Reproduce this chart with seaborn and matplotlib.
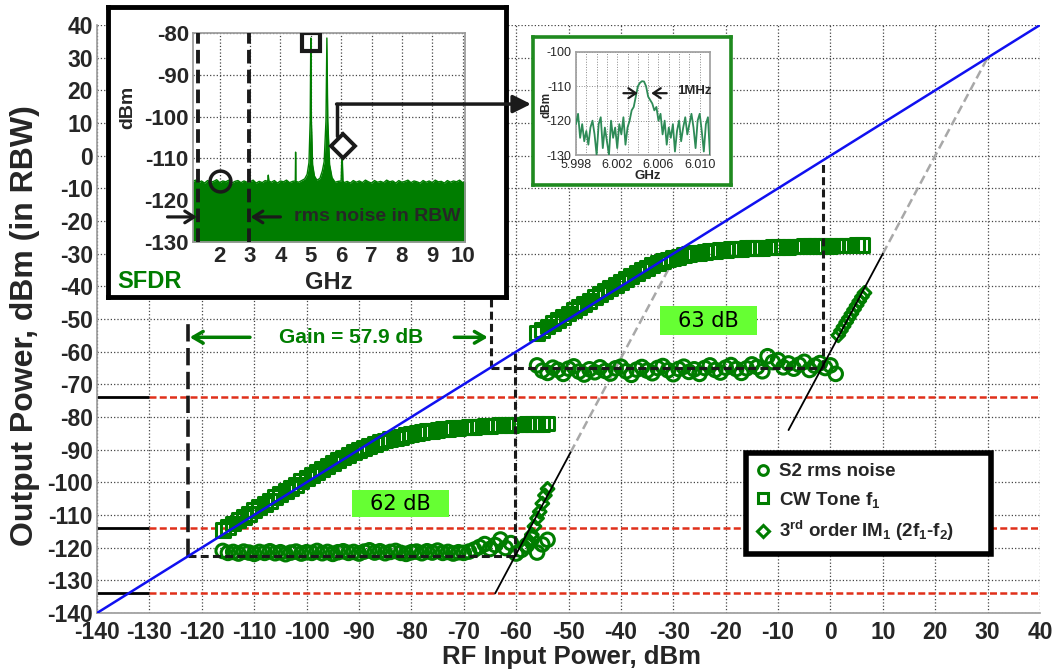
import numpy as np
import matplotlib
matplotlib.use("Agg")
import matplotlib.pyplot as plt
import seaborn as sns
from matplotlib.lines import Line2D
from matplotlib.patches import Rectangle
from matplotlib.ticker import MultipleLocator

# ---------------- data ----------------
pin_low = list(range(-116, -53))            # RF input, dBm (first stage)
cw_low = [-114.6, -113.6, -112.6, -111.6, -110.6, -109.6, -108.6, -107.6, -106.6, -105.6,
          -104.6, -103.6, -102.6, -101.7, -100.7, -99.7, -98.7, -97.8, -96.8, -95.9,
          -95.0, -94.1, -93.2, -92.4, -91.6, -90.8, -90.1, -89.4, -88.8, -88.2,
          -87.7, -87.2, -86.8, -86.4, -86.0, -85.6, -85.3, -85.0, -84.7, -84.4,
          -84.2, -84.0, -83.8, -83.6, -83.5, -83.3, -83.2, -83.1, -83.0, -82.9,
          -82.8, -82.7, -82.6, -82.5, -82.5, -82.4, -82.3, -82.3, -82.2, -82.2,
          -82.1, -82.1, -82.0]
noise_low = [-121.0, -121.6, -121.3, -121.8, -121.2, -121.5, -121.9, -121.3, -121.6, -121.1,
             -121.7, -121.4, -122.0, -121.5, -121.2, -121.8, -121.4, -121.6, -121.0, -121.7,
             -121.3, -121.9, -121.4, -121.1, -121.6, -121.3, -121.8, -121.2, -120.8, -121.5,
             -121.1, -121.7, -121.3, -121.0, -121.6, -121.9, -121.4, -121.2, -121.7, -121.1,
             -121.5, -120.9, -121.6, -121.3, -121.8, -121.4, -121.6, -121.2, -120.6, -119.8,
             -118.9, -120.4, -119.2, -117.5, -120.1, -118.6, -121.8, -120.7, -119.3, -117.3,
             -121.5, -119.0, -117.6]
im3_low_x = [-58.0, -57.5, -57.0, -56.5, -56.0, -55.5, -55.0, -54.5, -54.0]
im3_low_y = [-120.0, -118.0, -116.0, -113.5, -111.0, -109.0, -106.5, -104.0, -102.0]

pin_high = list(range(-56, 7))              # RF input, dBm (second stage)
cw_high = [-54.3, -53.3, -52.3, -51.3, -50.3, -49.3, -48.3, -47.3, -46.3, -45.3,
           -44.4, -43.4, -42.4, -41.4, -40.5, -39.5, -38.6, -37.7, -36.8, -35.9,
           -35.1, -34.3, -33.6, -32.9, -32.3, -31.8, -31.3, -30.9, -30.5, -30.2,
           -29.9, -29.7, -29.5, -29.3, -29.1, -28.9, -28.8, -28.7, -28.6, -28.5,
           -28.4, -28.3, -28.2, -28.2, -28.1, -28.0, -28.0, -27.9, -27.9, -27.8,
           -27.8, -27.7, -27.7, -27.7, -27.6, -27.6, -27.6, -27.5, -27.5, -27.5,
           -27.5, -27.4, -27.4]
pin_high_noise = list(range(-56, 2))
noise_high = [-64.2, -65.8, -66.5, -64.9, -65.6, -66.8, -65.2, -64.5, -66.1, -67.0,
              -65.4, -66.3, -64.8, -65.9, -66.7, -65.1, -64.6, -66.0, -67.1, -65.5,
              -64.7, -65.8, -66.6, -65.0, -64.4, -65.7, -66.9, -65.3, -64.6, -66.2,
              -65.4, -66.8, -65.0, -64.2, -65.6, -66.4, -64.9, -64.1, -65.3, -66.5,
              -65.1, -63.9, -64.7, -66.0, -61.4, -63.2, -62.6, -64.8, -63.6, -65.2,
              -64.0, -63.1, -65.6, -64.3, -63.5, -65.0, -64.2, -66.8]
im3_high_x = [1.5, 2.0, 2.5, 3.0, 3.5, 4.0, 4.5, 5.0, 5.5, 6.0, 6.5]
im3_high_y = [-55.0, -53.6, -52.3, -51.0, -49.7, -48.4, -47.1, -45.8, -44.5, -43.2, -42.0]

ident_x = [-140, 40]                        # output = input reference
ident_y = [-140, 40]
ref_levels = [-74, -114, -134]              # noise / reference levels
fit1_x, fit1_y = [-64.0, -49.6], [-134.0, -90.8]     # IM3 slope-3 fits
ext1_x, ext1_y = [-49.6, -29.0], [-90.8, -29.0]
fit2_x, fit2_y = [-8.0, 10.0], [-84.0, -30.0]
ext2_x, ext2_y = [10.0, 30.0], [-30.0, 30.0]

# inset spectrum (GHz, dBm)
spec_ghz = [1.10, 1.20, 1.30, 1.40, 1.50, 1.60, 1.70, 1.80, 1.90, 2.00, 2.10, 2.20, 2.30, 2.40, 2.50, 2.60, 2.70, 2.80, 2.90, 3.00,
            3.10, 3.20, 3.30, 3.40, 3.50, 3.58, 3.60, 3.62, 3.70, 3.80, 3.90, 4.00, 4.10, 4.20, 4.30, 4.40, 4.49, 4.50, 4.51, 4.60,
            4.70, 4.80, 4.88, 4.94, 4.98, 5.00, 5.02, 5.06, 5.12, 5.20, 5.30, 5.38, 5.44, 5.50, 5.53, 5.56, 5.62, 5.70, 5.80, 5.90,
            6.00, 6.03, 6.06, 6.10, 6.20, 6.30, 6.40, 6.50, 6.60, 6.70, 6.80, 6.90, 7.00, 7.10, 7.20, 7.30, 7.40, 7.50, 7.60, 7.70,
            7.80, 7.90, 8.00, 8.10, 8.20, 8.30, 8.40, 8.50, 8.60, 8.70, 8.80, 8.90, 9.00, 9.10, 9.20, 9.30, 9.40, 9.50, 9.60, 9.70,
            9.80, 9.90, 10.00, 10.10]
spec_dbm = [-115.6, -115.2, -115.8, -115.4, -115.9, -115.3, -115.7, -115.5, -115.1, -115.8, -115.4, -115.6, -115.2, -115.9, -115.5, -115.3, -115.8, -115.4, -115.7, -115.6,
            -115.2, -115.9, -115.5, -115.8, -115.3, -115.5, -114.0, -115.4, -115.7, -115.3, -115.9, -115.4, -115.6, -115.2, -115.8, -115.5, -115.4, -108.5, -115.5, -115.7,
            -115.3, -114.9, -113.8, -111.0, -101.0, -81.2, -101.0, -111.5, -114.2, -115.2, -114.8, -113.0, -110.8, -101.0, -81.2, -101.0, -111.5, -114.6, -115.7, -115.5,
            -115.4, -108.0, -115.4, -115.8, -115.5, -115.9, -115.3, -115.7, -115.4, -115.8, -115.2, -115.6, -115.9, -115.3, -115.7, -115.5, -115.8, -115.2, -115.6, -115.4,
            -115.9, -115.3, -115.7, -115.5, -115.2, -115.8, -115.4, -115.6, -115.9, -115.3, -115.7, -115.4, -115.8, -115.2, -115.6, -115.5, -115.9, -115.3, -115.7, -115.4,
            -115.6, -115.2, -115.8, -115.5]

# zoomed IM3 spectrum (GHz, dBm)
zoom_ghz = [5.9980, 5.9982, 5.9984, 5.9986, 5.9988, 5.9990, 5.9992, 5.9994, 5.9996, 5.9998,
            6.0000, 6.0002, 6.0004, 6.0006, 6.0008, 6.0010, 6.0012, 6.0014, 6.0016, 6.0018,
            6.0020, 6.0022, 6.0024, 6.0026, 6.0028, 6.0030, 6.0032, 6.0034, 6.0036, 6.0038,
            6.0040, 6.0042, 6.0044, 6.0046, 6.0048, 6.0050, 6.0052, 6.0054, 6.0056, 6.0058,
            6.0060, 6.0062, 6.0064, 6.0066, 6.0068, 6.0070, 6.0072, 6.0074, 6.0076, 6.0078,
            6.0080, 6.0082, 6.0084, 6.0086, 6.0088, 6.0090, 6.0092, 6.0094, 6.0096, 6.0098,
            6.0100, 6.0102, 6.0104, 6.0106, 6.0108, 6.0110]
zoom_dbm = [-121, -118, -125, -121, -126, -123, -127, -122, -120, -124,
            -130, -121, -119, -128, -122, -126, -130, -120, -125, -122,
            -128, -121, -124, -119, -127, -122, -120, -117, -116, -113,
            -110, -109, -108.5, -108.6, -110, -113, -114, -115, -117, -116,
            -120, -118, -124, -120, -127, -122, -125, -121, -129, -123,
            -120, -126, -122, -119, -124, -121, -118, -122, -128, -120,
            -118, -123, -129, -121, -119, -130]

GREEN = "#007d00"
W, H = 1057, 672

# ---------------- style ----------------
sns.set_theme(style="white")
plt.rcParams["font.family"] = ["Liberation Sans", "DejaVu Sans"]
plt.rcParams["font.weight"] = "bold"
plt.rcParams["axes.unicode_minus"] = False
plt.rcParams["mathtext.fontset"] = "custom"
plt.rcParams["mathtext.rm"] = "Liberation Sans:bold"
plt.rcParams["mathtext.it"] = "Liberation Sans:bold"
plt.rcParams["mathtext.bf"] = "Liberation Sans:bold"

fig = plt.figure(figsize=(W / 100, H / 100), dpi=100)
fig.patch.set_facecolor("white")

def fx(px):
    return px / W

def fy(py):
    return 1 - py / H

# ---------------- main axes ----------------
ax = fig.add_axes([fx(97), fy(613), (1040 - 97) / W, (613 - 25) / H])
ax.set_xlim(-140, 40)
ax.set_ylim(-140, 40)
ax.set_xticks(range(-140, 41, 10))
ax.set_yticks(range(-140, 41, 10))
ax.grid(True, linestyle=":", color="#444444", linewidth=0.9)
for s in ["top", "right"]:
    ax.spines[s].set_visible(False)
for s in ["left", "bottom"]:
    ax.spines[s].set_color("#9a9a9a")
    ax.spines[s].set_linewidth(1.2)
ax.tick_params(direction="in", length=5, color="#9a9a9a", labelsize=16.5, pad=3)
ax.tick_params(axis="x", pad=6)
for lab in ax.get_xticklabels() + ax.get_yticklabels():
    lab.set_fontweight("bold")

# reference levels
for lv in ref_levels:
    ax.hlines(lv, -130, 40, colors="#e0301a", linestyles=(0, (2.8, 1.3)), linewidth=1.8, zorder=2)
    ax.hlines(lv, -140, -130, colors="black", linewidth=2.0, zorder=2)

# black dashed construction lines
dash_m = (0, (2.6, 1.4))
ax.plot([-122.6, -122.6], [-122.5, -51.5], color="k", lw=2.6, ls=(0, (4.8, 1.8)), zorder=4)
ax.plot([-122.6, -60.3], [-122.5, -122.5], color="k", lw=2.2, ls=dash_m, zorder=4)
ax.plot([-60.3, -60.3], [-122.5, -60.3], color="k", lw=2.2, ls=dash_m, zorder=4)
ax.plot([-64.7, -64.7], [-65.0, -40.0], color="k", lw=2.2, ls=dash_m, zorder=4)
ax.plot([-64.7, -1.5], [-65.0, -65.0], color="k", lw=2.2, ls=dash_m, zorder=4)
ax.plot([-1.5, -1.5], [-65.0, -1.5], color="k", lw=2.2, ls=dash_m, zorder=4)

# data markers
mk = dict(facecolors="none", edgecolor=GREEN, linewidth=2.2, legend=False, ax=ax)
sns.scatterplot(x=pin_low, y=noise_low, marker="o", s=95, zorder=3, **mk)
sns.scatterplot(x=pin_high_noise, y=noise_high, marker="o", s=95, zorder=3, **mk)
sns.scatterplot(x=pin_low, y=cw_low, marker="s", s=100, zorder=3, **mk)
sns.scatterplot(x=pin_high, y=cw_high, marker="s", s=100, zorder=3, **mk)
sns.scatterplot(x=im3_low_x, y=im3_low_y, marker="D", s=42, zorder=3, **mk)
sns.scatterplot(x=im3_high_x, y=im3_high_y, marker="D", s=42, zorder=3, **mk)

# lines
sns.lineplot(x=ident_x, y=ident_y, color="#1010f0", lw=1.8, ax=ax, zorder=5)
sns.lineplot(x=ext1_x, y=ext1_y, color="#a8a8a8", lw=1.8, ls=(0, (3.5, 1.8)), ax=ax, zorder=2)
sns.lineplot(x=ext2_x, y=ext2_y, color="#a8a8a8", lw=1.8, ls=(0, (3.5, 1.8)), ax=ax, zorder=2)
sns.lineplot(x=fit1_x, y=fit1_y, color="black", lw=1.3, ax=ax, zorder=5)
sns.lineplot(x=fit2_x, y=fit2_y, color="black", lw=1.3, ax=ax, zorder=5)

# SFDR value boxes
for (x0, x1, y0, y1, txt) in [(-91.4, -72.8, -110.7, -102.3, "62 dB"),
                              (-32.6, -14.0, -55.0, -46.0, "63 dB")]:
    ax.add_patch(Rectangle((x0, y0), x1 - x0, y1 - y0, facecolor="#66ff33",
                           edgecolor="none", zorder=3))
    ax.text((x0 + x1) / 2, (y0 + y1) / 2, txt, ha="center", va="center",
            fontsize=15, fontweight="normal", family="DejaVu Sans", color="black", zorder=6)

# gain annotation
ax.text(-91.4, -55.6, "Gain = 57.9 dB", color=GREEN, fontsize=15, fontweight="bold",
        ha="center", va="center", zorder=6)
arr = dict(arrowstyle="->,head_length=0.6,head_width=0.35", color=GREEN, lw=2.5,
           shrinkA=0, shrinkB=0)
ax.annotate("", xy=(-122.3, -55.6), xytext=(-110.8, -55.6), arrowprops=arr, zorder=6)
ax.annotate("", xy=(-65.4, -55.6), xytext=(-71.8, -55.6), arrowprops=arr, zorder=6)

# legend
handles = [Line2D([], [], ls="", marker="o", ms=7, mfc="none", mec=GREEN, mew=2.2),
           Line2D([], [], ls="", marker="s", ms=7, mfc="none", mec=GREEN, mew=2.2),
           Line2D([], [], ls="", marker="D", ms=6, mfc="none", mec=GREEN, mew=2.2)]
labels = ["S2 rms noise", "CW Tone f$_1$", "3$^{rd}$ order IM$_1$ (2f$_1$-f$_2$)"]
leg = ax.legend(handles, labels, loc="upper left",
                bbox_to_anchor=(fx(746), fy(556), 245 / W, 103 / H),
                bbox_transform=fig.transFigure, mode="expand", frameon=True,
                fancybox=False, edgecolor="black", framealpha=1,
                prop={"size": 13.5, "weight": "bold"}, handlelength=0.7,
                handletextpad=0.5, borderpad=0.55, labelspacing=0.5, borderaxespad=0)
leg.get_frame().set_linewidth(4)
leg.set_zorder(10)

fig.text(fx(571), fy(657), "RF Input Power, dBm", ha="center", va="center",
         fontsize=18.5, fontweight="bold")
fig.text(fx(25), fy(326), "Output Power, dBm (in RBW)", ha="center", va="center",
         rotation=90, fontsize=23, fontweight="bold")

# ---------------- SFDR spectrum inset ----------------
box1 = fig.add_axes([fx(108), fy(297), (506 - 108) / W, (297 - 7) / H])
box1.set_xticks([])
box1.set_yticks([])
box1.set_facecolor("white")
for s in box1.spines.values():
    s.set_linewidth(3.5)
    s.set_color("black")

axs = fig.add_axes([fx(193), fy(242), (465 - 193) / W, (242 - 33) / H])
axs.set_facecolor("white")
axs.fill_between(spec_ghz, spec_dbm, -130, color=GREEN, lw=0, zorder=2)
sns.lineplot(x=spec_ghz, y=spec_dbm, color=GREEN, lw=1.0, ax=axs, zorder=2)
axs.set_xlim(1.12, 10.08)
axs.set_ylim(-130, -80)
axs.set_xticks(range(2, 11))
axs.set_yticks(range(-130, -79, 10))
axs.grid(True, linestyle=":", color="#444444", linewidth=0.9, zorder=1)
for s in axs.spines.values():
    s.set_color("#9a9a9a")
axs.tick_params(direction="in", length=4, color="#9a9a9a", labelsize=16, pad=3)
for lab in axs.get_xticklabels() + axs.get_yticklabels():
    lab.set_fontweight("bold")
axs.set_xlabel("")
axs.set_ylabel("")
axs.axvline(1.3, color="k", lw=2.8, ls=(0, (3.5, 1.6)), zorder=4)
axs.axvline(2.95, color="k", lw=2.8, ls=(0, (3.5, 1.6)), zorder=4)
axs.plot([2.0], [-115.5], marker="o", ms=15, mfc="none", mec="k", mew=2.5, zorder=5)
axs.plot([5.0], [-82.2], marker="s", ms=13, mfc="none", mec="k", mew=3, zorder=5)
axs.plot([6.07], [-107.1], marker="D", ms=12, mfc="white", mec="k", mew=2.8, zorder=5)
axs.plot([5.85, 5.85], [-104.6, -97.0], color="k", lw=2.5, zorder=5, clip_on=False)
axs.annotate("", xy=(fx(531), -97.0), xycoords=("figure fraction", "data"),
             xytext=(5.85, -97.0), textcoords="data",
             arrowprops=dict(arrowstyle="-|>,head_length=0.9,head_width=0.45",
                             color="k", lw=2.5, shrinkA=0, shrinkB=0),
             annotation_clip=False)
arrk = dict(arrowstyle="->,head_length=0.55,head_width=0.35", color="k", lw=2.3,
            shrinkA=0, shrinkB=0)
axs.annotate("", xy=(1.25, -124.0), xytext=(0.28, -124.0), arrowprops=arrk,
             annotation_clip=False)
axs.annotate("", xy=(3.02, -124.0), xytext=(4.0, -124.0), arrowprops=arrk,
             annotation_clip=False)
axs.text(4.45, -124.0, "rms noise in RBW", fontsize=14, fontweight="bold",
         ha="left", va="center", zorder=6)
fig.text(fx(128), fy(107), "dBm", rotation=90, ha="center", va="center",
         fontsize=14, fontweight="bold")
fig.text(fx(329), fy(282), "GHz", ha="center", va="center", fontsize=17,
         fontweight="bold")
fig.text(fx(117), fy(281), "SFDR", ha="left", va="center", fontsize=17,
         fontweight="bold", color=GREEN)

# ---------------- zoomed IM3 inset ----------------
box2 = fig.add_axes([fx(533), fy(185), (731 - 533) / W, (185 - 37) / H])
box2.set_xticks([])
box2.set_yticks([])
box2.set_facecolor("white")
for s in box2.spines.values():
    s.set_linewidth(2.6)
    s.set_color("#1f8a1f")

axz = fig.add_axes([fx(576), fy(155), (710 - 576) / W, (155 - 52) / H])
axz.set_facecolor("white")
sns.lineplot(x=zoom_ghz, y=zoom_dbm, color="#2e8b57", lw=1.3, ax=axz, zorder=3)
axz.set_xlim(5.998, 6.011)
axz.set_ylim(-130, -100)
axz.set_xticks([5.998, 6.002, 6.006, 6.010])
axz.set_xticklabels(["5.998", "6.002", "6.006", "6.010"])
axz.xaxis.set_minor_locator(MultipleLocator(0.001))
axz.set_yticks([-130, -120, -110, -100])
axz.grid(True, which="both", linestyle=":", color="#8a8a8a", linewidth=0.7)
for s in axz.spines.values():
    s.set_color("#a0a0a0")
axz.tick_params(which="both", direction="in", length=0, labelsize=9, pad=1.5)
axz.tick_params(axis="x", pad=3)
axz.tick_params(axis="y", pad=3)
for lab in axz.get_xticklabels() + axz.get_yticklabels():
    lab.set_fontweight("normal")
axz.set_xlabel("")
axz.set_ylabel("")
arrs = dict(arrowstyle="->,head_length=0.45,head_width=0.3", color="k", lw=1.6,
            shrinkA=0, shrinkB=0)
axz.annotate("", xy=(6.0040, -112.0), xytext=(6.0026, -112.0), arrowprops=arrs)
axz.annotate("", xy=(6.0053, -112.0), xytext=(6.0068, -112.0), arrowprops=arrs)
axz.text(6.0078, -111.5, "1MHz", fontsize=9.5, fontweight="bold", ha="left", va="center")
fig.text(fx(547), fy(105), "dBm", rotation=90, ha="center", va="center",
         fontsize=8.5, fontweight="bold")
fig.text(fx(648), fy(176), "GHz", ha="center", va="center", fontsize=9.5,
         fontweight="bold")

fig.savefig("out.png", dpi=100, facecolor="white")
